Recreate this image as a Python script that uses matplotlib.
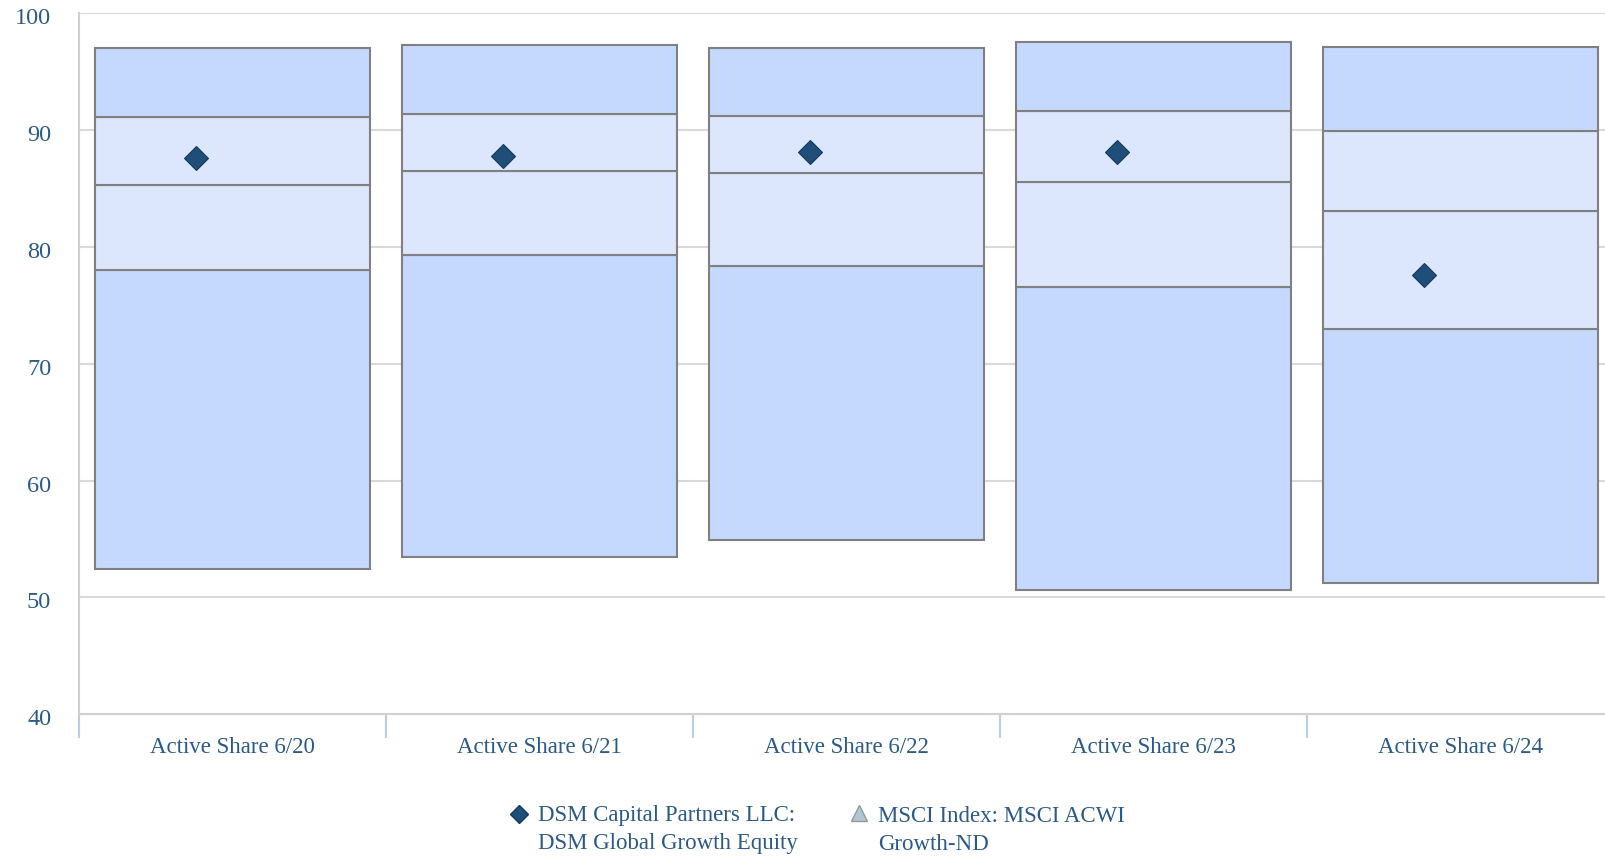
import matplotlib.pyplot as plt
from matplotlib.lines import Line2D
from matplotlib.transforms import ScaledTranslation

categories = ["Active Share 6/20", "Active Share 6/21", "Active Share 6/22",
              "Active Share 6/23", "Active Share 6/24"]
p05 = [52.4, 53.5, 54.9, 50.6, 51.2]
p25 = [78.0, 79.3, 78.4, 76.6, 73.0]
p50 = [85.3, 86.5, 86.3, 85.6, 83.1]
p75 = [91.1, 91.4, 91.2, 91.6, 89.9]
p95 = [97.0, 97.3, 97.0, 97.5, 97.1]
dsm = [87.6, 87.8, 88.1, 88.1, 77.6]

yticks = [40, 50, 60, 70, 80, 90, 100]

outer = "#c5d8fd"
inner = "#dce6fd"
edge = "#808080"
txt = "#2b5a88"

plt.rcParams['font.family'] = ['Liberation Serif', 'DejaVu Serif']

fig = plt.figure(figsize=(16.06, 8.56), dpi=100)
ax = fig.add_axes([0.0492, 0.1655, 0.9558, 0.819])

x = [i + 0.5 for i in range(len(categories))]
w = 0.897
bands = [(p05, p25, outer), (p25, p50, inner), (p50, p75, inner), (p75, p95, outer)]
for lo, hi, col in bands:
    ax.bar(x, [h - l for l, h in zip(lo, hi)], bottom=lo, width=w,
           color=col, edgecolor=edge, linewidth=1.5, zorder=2)

ax.plot([xi - 0.12 for xi in x], dsm, linestyle="none", marker="D", markersize=12.5,
        markerfacecolor="#1f4e79", markeredgecolor="#163a5c", markeredgewidth=0.8, zorder=3)

ax.set_xlim(0, 5)
ax.set_ylim(40, 100)
ax.set_yticks(yticks)
ax.grid(axis="y", color="#d9d9d9", linewidth=1.5, zorder=0)
ax.set_axisbelow(True)

ax.set_xticks(x)
ax.set_xticklabels(categories)
ax.set_xticks(range(6), minor=True)
ax.tick_params(axis="x", which="major", length=0, pad=16, labelsize=16.5, labelcolor=txt)
ax.tick_params(axis="x", which="minor", length=17, width=1.5, color="#b9cde5")
ax.tick_params(axis="y", length=0, pad=20, labelsize=17.5, labelcolor=txt)
shift = ScaledTranslation(0, -3 / 100, fig.dpi_scale_trans)
for lab in ax.get_yticklabels():
    lab.set_transform(lab.get_transform() + shift)

for s in ["top", "right"]:
    ax.spines[s].set_visible(False)
ax.spines["left"].set_color("#d0d0d0")
ax.spines["left"].set_linewidth(1.5)
ax.spines["bottom"].set_color("#d0d0d0")
ax.spines["bottom"].set_linewidth(1.5)

# legend drawn by hand
W, H = 1606, 856
fig.add_artist(Line2D([519 / W], [1 - 814 / H], marker="D", markersize=9,
                      markerfacecolor="#1f4e79", markeredgecolor="#163a5c",
                      transform=fig.transFigure))
fig.add_artist(Line2D([859 / W], [1 - 813 / H], marker="^", markersize=11,
                      markerfacecolor="#b4c6d0", markeredgecolor="#8c9ba3",
                      transform=fig.transFigure))
legend_lines = [(538, "DSM Capital Partners LLC:", "DSM Global Growth Equity"),
                (878, "MSCI Index: MSCI ACWI", "Growth-ND")]
for lx, l1, l2 in legend_lines:
    fig.text(lx / W, 1 - 816 / H, l1, fontsize=16.5, color=txt, ha="left", va="center")
    fig.text(lx / W, 1 - 844 / H, l2, fontsize=16.5, color=txt, ha="left", va="center")

plt.savefig("out.png", dpi=100)
